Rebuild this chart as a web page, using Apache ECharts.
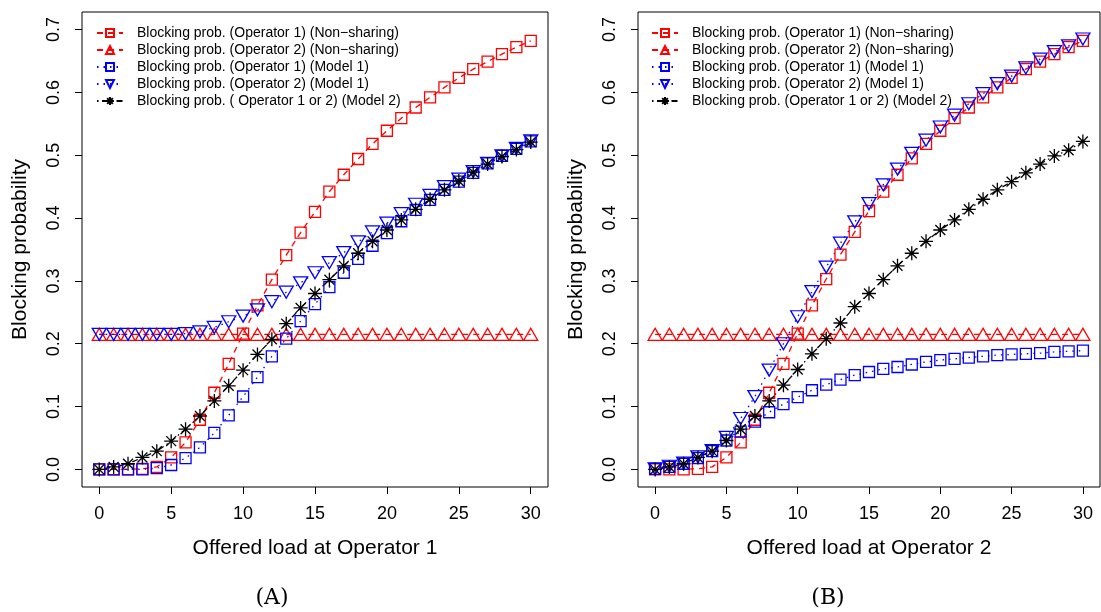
<!DOCTYPE html>
<html>
<head>
<meta charset="utf-8">
<script src="https://cdn.jsdelivr.net/npm/echarts@6/dist/echarts.min.js"></script>
<style>
  html, body { margin: 0; padding: 0; background: #fff; }
  #chart { width: 1101px; height: 612px; }
</style>
</head>
<body>
<div id="chart"></div>
<script>
// offered load (x) shared by both panels
const loads = [0, 1, 2, 3, 4, 5, 6, 7, 8, 9, 10, 11, 12, 13, 14, 15, 16, 17, 18, 19, 20, 21, 22, 23, 24, 25, 26, 27, 28, 29, 30];
const xTicks = [0, 5, 10, 15, 20, 25, 30];
const yTicks = [0, 0.1, 0.2, 0.3, 0.4, 0.5, 0.6, 0.7];

// panel (A): load varied at operator 1
const op1NonSharingA = [0.000, 0.000, 0.000, 0.001, 0.004, 0.019, 0.043, 0.079, 0.122, 0.168, 0.216, 0.261, 0.302, 0.341, 0.377, 0.410, 0.442, 0.469, 0.494, 0.518, 0.539, 0.559, 0.576, 0.592, 0.608, 0.623, 0.637, 0.649, 0.661, 0.672, 0.682];
const op2NonSharingA = [0.215, 0.215, 0.215, 0.215, 0.215, 0.215, 0.215, 0.215, 0.215, 0.215, 0.215, 0.215, 0.215, 0.215, 0.215, 0.215, 0.215, 0.215, 0.215, 0.215, 0.215, 0.215, 0.215, 0.215, 0.215, 0.215, 0.215, 0.215, 0.215, 0.215, 0.215];
const op1Model1A = [0.000, 0.000, 0.000, 0.000, 0.002, 0.007, 0.018, 0.035, 0.058, 0.086, 0.116, 0.147, 0.180, 0.208, 0.236, 0.263, 0.290, 0.313, 0.335, 0.356, 0.376, 0.395, 0.413, 0.429, 0.445, 0.458, 0.472, 0.487, 0.499, 0.510, 0.522];
const op2Model1A = [0.215, 0.215, 0.215, 0.215, 0.215, 0.215, 0.216, 0.219, 0.226, 0.235, 0.244, 0.254, 0.267, 0.282, 0.297, 0.313, 0.329, 0.345, 0.362, 0.378, 0.392, 0.407, 0.422, 0.436, 0.450, 0.462, 0.474, 0.487, 0.499, 0.511, 0.523];
const model2A = [0.000, 0.004, 0.009, 0.019, 0.029, 0.045, 0.064, 0.085, 0.109, 0.133, 0.158, 0.183, 0.207, 0.232, 0.257, 0.280, 0.302, 0.324, 0.344, 0.363, 0.381, 0.397, 0.414, 0.430, 0.445, 0.459, 0.473, 0.486, 0.498, 0.509, 0.521];

// panel (B): load varied at operator 2
const op1NonSharingB = [0.000, 0.000, 0.000, 0.001, 0.004, 0.019, 0.043, 0.079, 0.122, 0.168, 0.216, 0.261, 0.303, 0.342, 0.378, 0.411, 0.442, 0.469, 0.495, 0.518, 0.539, 0.559, 0.576, 0.592, 0.608, 0.623, 0.637, 0.649, 0.661, 0.672, 0.682];
const op2NonSharingB = [0.215, 0.215, 0.215, 0.215, 0.215, 0.215, 0.215, 0.215, 0.215, 0.215, 0.215, 0.215, 0.215, 0.215, 0.215, 0.215, 0.215, 0.215, 0.215, 0.215, 0.215, 0.215, 0.215, 0.215, 0.215, 0.215, 0.215, 0.215, 0.215, 0.215, 0.215];
const op1Model1B = [0.001, 0.004, 0.009, 0.018, 0.029, 0.046, 0.060, 0.076, 0.091, 0.104, 0.115, 0.126, 0.135, 0.143, 0.150, 0.155, 0.160, 0.163, 0.167, 0.171, 0.174, 0.176, 0.178, 0.180, 0.182, 0.183, 0.184, 0.185, 0.187, 0.188, 0.189];
const op2Model1B = [0.001, 0.005, 0.010, 0.020, 0.030, 0.051, 0.081, 0.116, 0.158, 0.200, 0.243, 0.283, 0.322, 0.360, 0.394, 0.423, 0.453, 0.478, 0.503, 0.524, 0.545, 0.564, 0.582, 0.598, 0.614, 0.626, 0.639, 0.653, 0.665, 0.674, 0.685];
const model2B = [0.000, 0.004, 0.009, 0.019, 0.029, 0.046, 0.064, 0.085, 0.109, 0.134, 0.159, 0.184, 0.208, 0.233, 0.259, 0.280, 0.302, 0.324, 0.344, 0.363, 0.381, 0.397, 0.414, 0.430, 0.445, 0.458, 0.472, 0.486, 0.499, 0.508, 0.522];

const namesA = [
  'Blocking prob. (Operator 1) (Non\u2212sharing)',
  'Blocking prob. (Operator 2) (Non\u2212sharing)',
  'Blocking prob. (Operator 1) (Model 1)',
  'Blocking prob. (Operator 2) (Model 1)',
  'Blocking prob. ( Operator 1 or 2) (Model 2)'
];
const namesB = [
  'Blocking prob. (Operator 1) (Non\u2212sharing)',
  'Blocking prob. (Operator 2) (Non\u2212sharing)',
  'Blocking prob. (Operator 1) (Model 1)',
  'Blocking prob. (Operator 2) (Model 1)',
  'Blocking prob. (Operator 1 or 2) (Model 2)'
];

const FONT = 'Liberation Sans, Arial, sans-serif';
const RED = '#ff0000';
const BLUE = '#0000ff';
const ASTERISK = 'path://M0,-1L0,1M-1,0L1,0M-0.71,-0.71L0.71,0.71M-0.71,0.71L0.71,-0.71';

// one look per curve, shared by both panels
const looks = [
  { color: RED, symbol: 'rect', size: 11, rotate: 0, dash: [6, 5] },
  { color: RED, symbol: 'triangle', size: [14, 12], rotate: 0, dash: [6, 5] },
  { color: BLUE, symbol: 'rect', size: 11, rotate: 0, dash: [1.5, 5] },
  { color: BLUE, symbol: 'triangle', size: [14, 12], rotate: 180, dash: [1.5, 5] },
  { color: '#000000', symbol: ASTERISK, size: 14, rotate: 0, dash: [1.5, 3.5, 6, 3.5] }
];

function pairs(values) {
  return loads.map((x, i) => [x, values[i]]);
}

function makeSeries(name, values, look, axisIndex) {
  return {
    type: 'line',
    name: name,
    xAxisIndex: axisIndex,
    yAxisIndex: axisIndex,
    data: pairs(values),
    symbol: look.symbol,
    symbolSize: look.size,
    symbolRotate: look.rotate,
    showAllSymbol: true,
    lineStyle: { color: look.color, width: 1.3, type: look.dash },
    itemStyle: { color: 'rgba(0,0,0,0)', borderColor: look.color, borderWidth: 1.3 },
    emphasis: { disabled: true }
  };
}

function makeXAxis(gridIndex, title) {
  return {
    type: 'value',
    gridIndex: gridIndex,
    position: 'bottom',
    min: -1.2,
    max: 31.2,
    name: title,
    nameLocation: 'middle',
    nameGap: 51,
    nameTextStyle: { fontFamily: FONT, fontSize: 21, color: '#000' },
    axisLine: { show: false, onZero: false },
    axisTick: { show: true, inside: false, length: 7, customValues: xTicks, lineStyle: { color: '#000', width: 1 } },
    axisLabel: { customValues: xTicks, margin: 18, fontFamily: FONT, fontSize: 18, color: '#000' },
    splitLine: { show: false }
  };
}

function makeYAxis(gridIndex) {
  return {
    type: 'value',
    gridIndex: gridIndex,
    position: 'left',
    min: -0.028,
    max: 0.728,
    name: 'Blocking probability',
    nameLocation: 'middle',
    nameRotate: 90,
    nameGap: 51,
    nameTextStyle: { fontFamily: FONT, fontSize: 21, color: '#000' },
    axisLine: { show: false, onZero: false },
    axisTick: { show: true, inside: false, length: 7, customValues: yTicks, lineStyle: { color: '#000', width: 1 } },
    axisLabel: {
      customValues: yTicks,
      rotate: 90,
      margin: 19,
      fontFamily: FONT,
      fontSize: 18,
      color: '#000',
      formatter: (v) => v.toFixed(1)
    },
    splitLine: { show: false }
  };
}

function makeLegend(left, names) {
  return {
    orient: 'vertical',
    left: left,
    top: 26,
    padding: 0,
    itemGap: 3,
    itemWidth: 26,
    itemHeight: 10,
    data: names,
    selectedMode: false,
    textStyle: { fontFamily: FONT, fontSize: 14, color: '#000', lineHeight: 14, padding: [0, 0, 0, 9] }
  };
}

const series = [];
[op1NonSharingA, op2NonSharingA, op1Model1A, op2Model1A, model2A].forEach((vals, i) => {
  series.push(makeSeries(namesA[i], vals, looks[i], 0));
});
[op1NonSharingB, op2NonSharingB, op1Model1B, op2Model1B, model2B].forEach((vals, i) => {
  series.push(makeSeries(namesB[i], vals, looks[i], 1));
});

const chart = echarts.init(document.getElementById('chart'), null, { renderer: 'canvas' });
chart.setOption({
  animation: false,
  backgroundColor: '#ffffff',
  grid: [
    { left: 82, top: 12, width: 466, height: 475, show: true, borderColor: '#000', borderWidth: 1, backgroundColor: 'transparent' },
    { left: 638, top: 12, width: 462, height: 475, show: true, borderColor: '#000', borderWidth: 1, backgroundColor: 'transparent' }
  ],
  xAxis: [makeXAxis(0, 'Offered load at Operator 1'), makeXAxis(1, 'Offered load at Operator 2')],
  yAxis: [makeYAxis(0), makeYAxis(1)],
  legend: [makeLegend(96, namesA), makeLegend(651, namesB)],
  series: series,
  graphic: [
    { type: 'text', x: 272, y: 598, style: { text: '(A)', fontFamily: 'DejaVu Serif, Liberation Serif, serif', fontSize: 22, fill: '#000', align: 'center', verticalAlign: 'middle' } },
    { type: 'text', x: 828, y: 598, style: { text: '(B)', fontFamily: 'DejaVu Serif, Liberation Serif, serif', fontSize: 22, fill: '#000', align: 'center', verticalAlign: 'middle' } }
  ]
});
</script>
</body>
</html>
